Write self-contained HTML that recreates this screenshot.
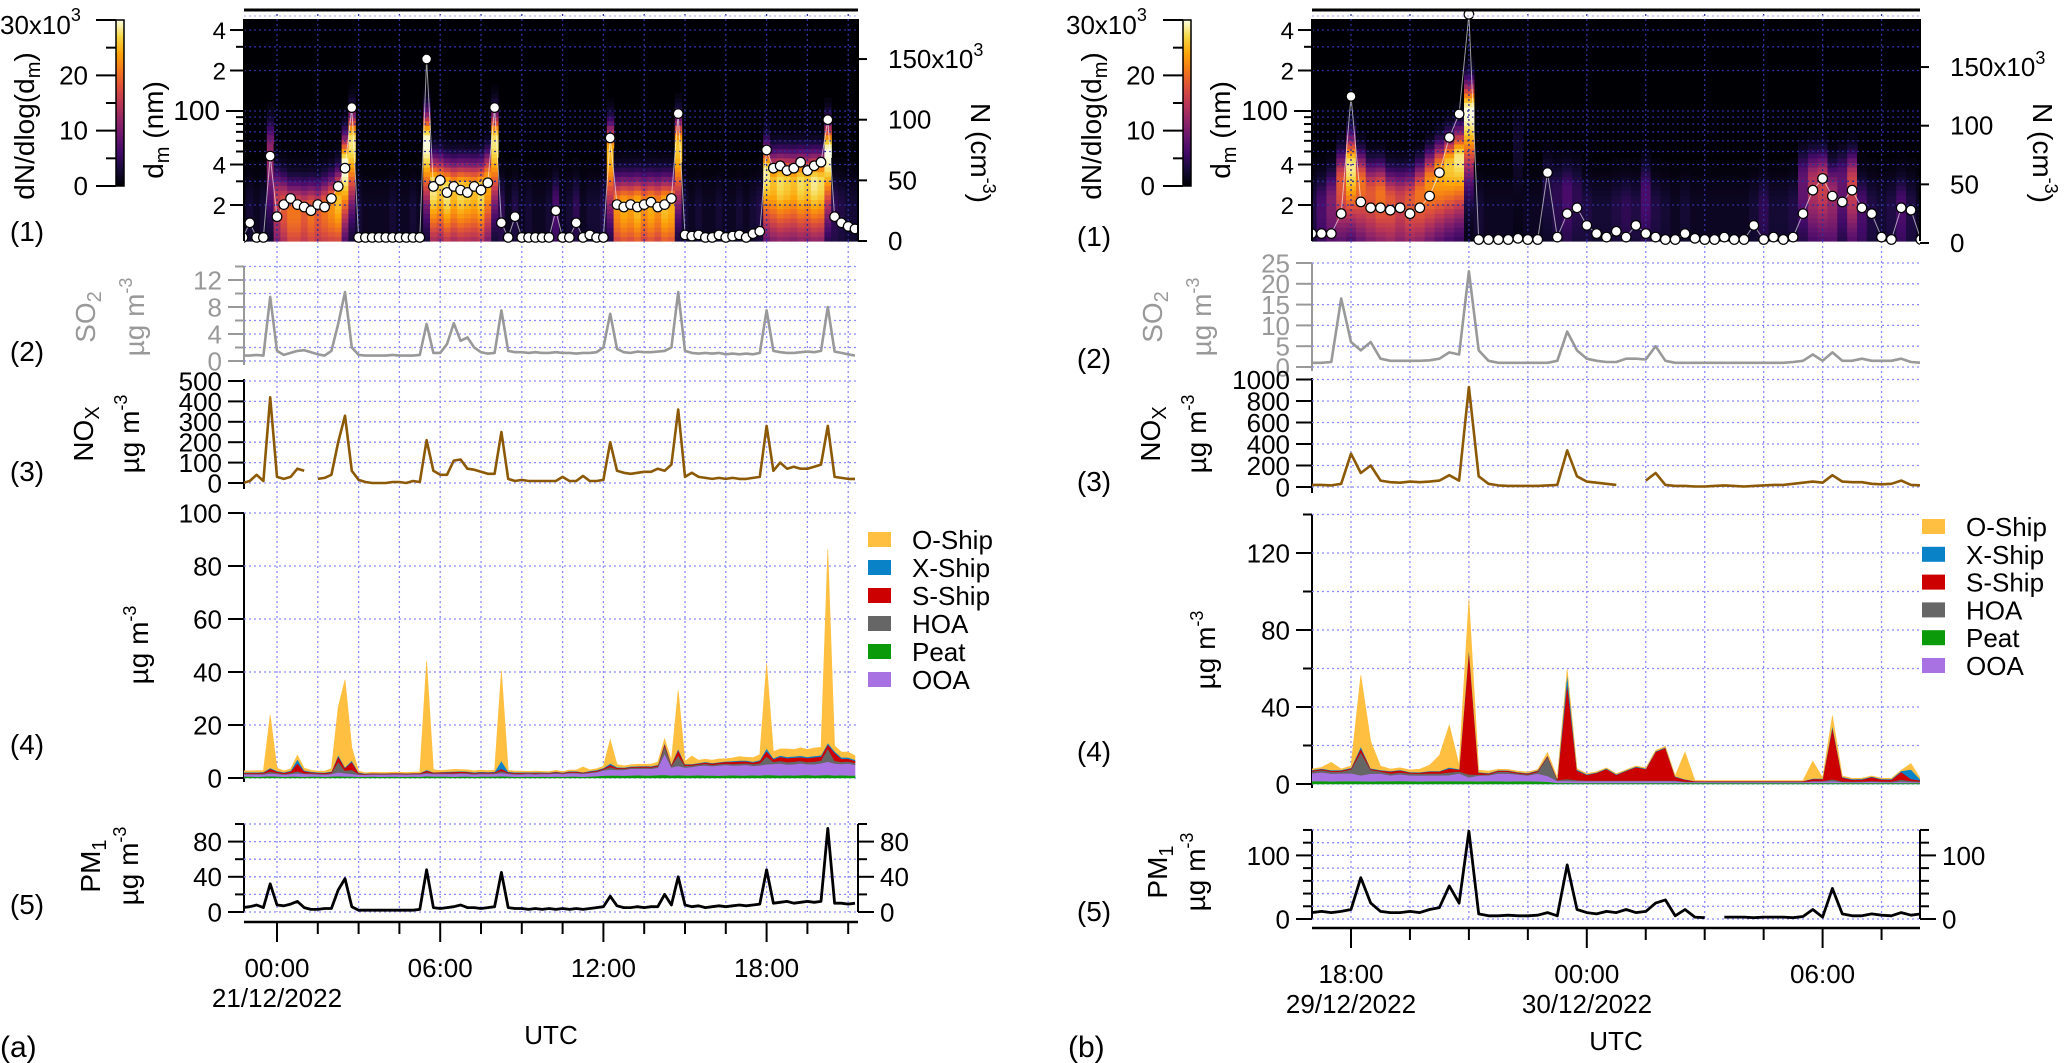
<!DOCTYPE html>
<html><head><meta charset="utf-8"><style>
html,body{margin:0;padding:0;background:#fff;}
svg{display:block;font-family:"Liberation Sans",Arial,sans-serif;}
</style></head><body>
<svg id="chart" width="2067" height="1063" viewBox="0 0 2067 1063" xmlns="http://www.w3.org/2000/svg">
<defs id="defs">
<linearGradient id="cbar" x1="0" y1="1" x2="0" y2="0">
<stop offset="0" stop-color="#000004"/><stop offset="0.1" stop-color="#160b39"/><stop offset="0.2" stop-color="#420a68"/><stop offset="0.3" stop-color="#6a176e"/><stop offset="0.4" stop-color="#932667"/><stop offset="0.5" stop-color="#bc3754"/><stop offset="0.6" stop-color="#dd513a"/><stop offset="0.7" stop-color="#f37819"/><stop offset="0.8" stop-color="#fca50a"/><stop offset="0.9" stop-color="#f6d746"/><stop offset="1" stop-color="#fcffe4"/>
</linearGradient>
</defs>
<rect x="0" y="0" width="2067" height="1063" fill="#fff"/>
<g id="root"></g>
<g id="labels" font-size="28" fill="#000">
<text x="0" y="34" font-size="26">30x10<tspan dy="-13" font-size="18">3</tspan></text>
<text transform="translate(34,126) rotate(-90)" text-anchor="middle">dN/dlog(d<tspan dy="6" font-size="20">m</tspan><tspan dy="-6">)</tspan></text>
<text transform="translate(163,130) rotate(-90)" text-anchor="middle">d<tspan dy="6" font-size="20">m</tspan><tspan dy="-6"> (nm)</tspan></text>
<text transform="translate(971,153) rotate(90)" text-anchor="middle">N (cm<tspan dy="-12" font-size="18">-3</tspan><tspan dy="12">)</tspan></text>
<text transform="translate(95,317) rotate(-90)" text-anchor="middle" fill="#999">SO<tspan dy="6" font-size="20">2</tspan></text>
<text transform="translate(144,317) rotate(-90)" text-anchor="middle" fill="#999">µg m<tspan dy="-12" font-size="18">-3</tspan></text>
<text transform="translate(93,434) rotate(-90)" text-anchor="middle">NO<tspan dy="6" font-size="20">X</tspan></text>
<text transform="translate(139,434) rotate(-90)" text-anchor="middle">µg m<tspan dy="-12" font-size="18">-3</tspan></text>
<text transform="translate(148,645) rotate(-90)" text-anchor="middle">µg m<tspan dy="-12" font-size="18">-3</tspan></text>
<text transform="translate(100,866) rotate(-90)" text-anchor="middle">PM<tspan dy="6" font-size="20">1</tspan></text>
<text transform="translate(138,866) rotate(-90)" text-anchor="middle">µg m<tspan dy="-12" font-size="18">-3</tspan></text>
<text x="27" y="241" text-anchor="middle">(1)</text>
<text x="27" y="361" text-anchor="middle">(2)</text>
<text x="27" y="481" text-anchor="middle">(3)</text>
<text x="27" y="754" text-anchor="middle">(4)</text>
<text x="27" y="914" text-anchor="middle">(5)</text>
<text x="277" y="1007" text-anchor="middle" font-size="26">21/12/2022</text>
<text x="551" y="1044" text-anchor="middle" font-size="26">UTC</text>
<text x="0" y="1057" font-size="30">(a)</text>
<text x="1066" y="34" font-size="26">30x10<tspan dy="-13" font-size="18">3</tspan></text>
<text transform="translate(1101,126) rotate(-90)" text-anchor="middle">dN/dlog(d<tspan dy="6" font-size="20">m</tspan><tspan dy="-6">)</tspan></text>
<text transform="translate(1230,130) rotate(-90)" text-anchor="middle">d<tspan dy="6" font-size="20">m</tspan><tspan dy="-6"> (nm)</tspan></text>
<text transform="translate(2033,153) rotate(90)" text-anchor="middle">N (cm<tspan dy="-12" font-size="18">-3</tspan><tspan dy="12">)</tspan></text>
<text transform="translate(1162,317) rotate(-90)" text-anchor="middle" fill="#999">SO<tspan dy="6" font-size="20">2</tspan></text>
<text transform="translate(1211,317) rotate(-90)" text-anchor="middle" fill="#999">µg m<tspan dy="-12" font-size="18">-3</tspan></text>
<text transform="translate(1160,434) rotate(-90)" text-anchor="middle">NO<tspan dy="6" font-size="20">X</tspan></text>
<text transform="translate(1206,434) rotate(-90)" text-anchor="middle">µg m<tspan dy="-12" font-size="18">-3</tspan></text>
<text transform="translate(1215,650) rotate(-90)" text-anchor="middle">µg m<tspan dy="-12" font-size="18">-3</tspan></text>
<text transform="translate(1167,872) rotate(-90)" text-anchor="middle">PM<tspan dy="6" font-size="20">1</tspan></text>
<text transform="translate(1205,872) rotate(-90)" text-anchor="middle">µg m<tspan dy="-12" font-size="18">-3</tspan></text>
<text x="1094" y="246" text-anchor="middle">(1)</text>
<text x="1094" y="368" text-anchor="middle">(2)</text>
<text x="1094" y="491" text-anchor="middle">(3)</text>
<text x="1094" y="761" text-anchor="middle">(4)</text>
<text x="1094" y="921" text-anchor="middle">(5)</text>
<text x="1351" y="1013" text-anchor="middle" font-size="26">29/12/2022</text>
<text x="1587" y="1013" text-anchor="middle" font-size="26">30/12/2022</text>
<text x="1616" y="1050" text-anchor="middle" font-size="26">UTC</text>
<text x="1068" y="1057" font-size="30">(b)</text>
</g>
</svg>
<script>
const so2A = [0.8, 0.8,0.9,0.8,9.5, 1.5,0.9,1.2,1.5, 1.6,1.3,1.0,0.8, 1.5,5.5,10.2,2.0, 0.9,0.8,0.8,0.8, 0.8,0.9,0.8,0.8, 0.8,0.9,5.5,1.2, 1.2,2.5,5.6,3.0, 3.5,2.0,1.3,1.1, 1.2,7.5,1.5,1.3, 1.3,1.2,1.3,1.2, 1.2,1.3,1.2,1.2, 1.1,1.2,1.2,1.3, 2.0,7.0,1.8,1.3, 1.2,1.4,1.3,1.3, 1.4,1.5,2.0,10.2, 1.5,1.2,1.1,1.2, 1.1,1.2,1.0,1.1, 1.0,1.1,1.0,1.2, 7.5,1.5,1.3,1.2, 1.2,1.3,1.4,1.3, 1.5,8.0,1.4,1.2, 1.0,0.8];
const noxA = [0, 10,40,10,420, 30,20,30,70, 60,null,20,25, 40,200,330,60, 15,5,0,0, 0,5,5,0, 10,5,210,60, 40,40,110,115, 70,65,55,45, 45,250,20,10, 15,10,10,10, 10,10,30,10, 10,35,10,10, 15,200,60,50, 45,50,55,55, 70,60,90,360, 30,50,30,25, 20,25,20,25, 20,20,25,30, 280,60,100,70, 80,70,70,80, 90,280,30,25, 20,20];
const pmA = [5, 6,8,5,32, 8,7,9,12, 5,3,3,4, 4,25,38,6, 2,2,2,2, 2,2,2,2, 2,3,48,5, 4,5,6,8, 5,5,4,5, 6,45,5,4, 4,3,4,3, 4,3,4,3, 4,3,4,5, 6,18,7,5, 5,6,5,6, 6,20,8,40, 8,6,7,5, 6,7,6,7, 8,7,8,9, 48,10,11,12, 10,11,12,11, 12,95,10,10, 9,10];
const peatA = [0.6, 0.6,0.5,0.6,0.7, 0.6,0.5,0.6,0.6, 0.5,0.6,0.6,0.5, 0.6,0.7,0.6,0.6, 0.5,0.5,0.6,0.5, 0.5,0.6,0.5,0.5, 0.6,0.5,0.7,0.6, 0.6,0.6,0.5,0.6, 0.6,0.5,0.6,0.6, 0.6,0.7,0.6,0.5, 0.5,0.6,0.5,0.6, 0.5,0.6,0.5,0.6, 0.6,0.5,0.6,0.7, 0.9,1.0,1.0,0.9, 1.0,1.1,1.0,1.0, 1.1,1.2,1.0,1.1, 1.0,1.0,1.1,1.0, 1.0,0.9,1.0,1.1, 1.0,1.0,1.1,1.0, 1.2,1.1,1.0,1.1, 1.0,1.1,1.2,1.0, 1.1,1.2,1.0,1.1, 1.0,1.0];
const ooaA = [0.8, 0.8,0.9,0.8,1.0, 1.0,0.8,0.9,1.2, 1.0,0.9,0.8,0.8, 0.9,1.5,1.2,1.0, 0.8,0.7,0.8,0.8, 0.8,0.8,0.9,0.8, 0.8,0.9,1.0,0.9, 1.0,0.9,1.0,1.1, 1.0,0.9,1.0,0.9, 1.0,1.2,1.0,0.9, 0.9,1.0,0.9,1.0, 1.0,1.1,1.0,1.2, 1.2,1.1,1.3,1.5, 2.0,2.2,2.0,2.2, 2.5,2.4,2.6,2.5, 2.8,8.0,3.0,3.5, 3.0,3.2,3.5,3.8, 3.5,3.8,4.0,3.6, 3.8,4.0,3.5,3.8, 4.0,4.2,4.5,4.0, 4.2,4.5,4.0,4.2, 4.5,5.0,4.5,4.2, 4.5,4.0];
const hoaA = [0.3, 0.3,0.3,0.3,0.8, 0.4,0.3,0.4,0.8, 0.3,0.3,0.3,0.3, 0.4,4.0,1.0,1.5, 0.3,0.2,0.2,0.2, 0.2,0.2,0.2,0.2, 0.2,0.2,0.5,0.3, 0.3,0.3,0.3,0.3, 0.3,0.3,0.3,0.3, 0.3,0.8,0.3,0.3, 0.3,0.3,0.3,0.3, 0.3,0.3,0.3,0.3, 0.3,0.3,0.3,0.3, 0.4,1.0,0.5,0.4, 0.4,0.5,0.4,0.5, 0.5,3.0,0.6,4.0, 0.6,0.5,0.5,0.6, 0.5,0.6,0.5,0.6, 0.7,0.6,0.7,0.8, 3.0,0.8,1.0,0.9, 1.0,0.9,0.8,1.0, 1.0,5.0,1.0,0.8, 0.8,0.7];
const sshipA = [0.3, 0.3,0.3,0.4,1.0, 0.5,0.4,0.6,3.0, 0.8,0.4,0.3,0.3, 0.4,2.0,1.0,3.0, 0.3,0.2,0.2,0.2, 0.2,0.2,0.2,0.2, 0.2,0.2,0.6,0.3, 0.3,0.4,0.5,0.4, 0.4,0.3,0.3,0.3, 0.3,0.8,0.3,0.3, 0.3,0.2,0.3,0.2, 0.2,0.3,0.2,0.3, 0.3,0.2,0.3,0.3, 0.3,0.8,0.4,0.3, 0.3,0.3,0.4,0.3, 0.4,0.8,0.5,2.0, 0.5,0.4,0.4,0.5, 0.5,0.5,0.6,0.8, 0.8,0.7,0.6,0.9, 2.0,1.0,1.5,1.5, 1.5,1.4,1.5,1.6, 1.5,1.5,3.0,1.2, 1.0,0.8];
const xshipA = [0.2, 0.2,0.2,0.2,0.3, 0.2,0.2,0.3,1.5, 0.3,0.2,0.2,0.2, 0.2,0.5,0.3,0.5, 0.2,0.1,0.1,0.1, 0.1,0.1,0.1,0.1, 0.1,0.1,0.3,0.1, 0.1,0.2,0.2,0.2, 0.2,0.2,0.2,0.2, 0.2,3.0,0.2,0.2, 0.2,0.1,0.2,0.1, 0.1,0.2,0.1,0.2, 0.2,0.1,0.2,0.2, 0.2,0.5,0.2,0.2, 0.2,0.2,0.2,0.2, 0.2,0.3,0.2,0.5, 0.2,0.2,0.2,0.2, 0.2,0.2,0.2,0.3, 0.3,0.3,0.3,0.3, 1.0,0.4,0.5,0.5, 0.5,0.5,0.5,0.5, 0.5,0.6,0.6,0.5, 0.5,0.4];
const oshipA = [0.5, 0.5,0.6,0.5,20, 1.0,0.5,0.6,1.5, 0.8,0.5,0.4,0.5, 1.0,18,33,5, 0.5,0.3,0.3,0.3, 0.3,0.3,0.3,0.3, 0.3,0.4,41,1.0, 0.5,0.6,0.8,0.6, 0.6,0.5,0.6,0.5, 0.6,34,0.5,0.4, 0.4,0.3,0.4,0.3, 0.3,0.4,0.3,0.4, 0.4,2.0,0.4,0.5, 0.6,9,1.0,0.6, 0.6,0.7,0.6,0.8, 1.0,1.5,1.5,22, 1.0,3.0,1.0,1.0, 1.0,1.2,1.0,1.2, 1.5,1.2,1.5,2.0, 32,2.5,2.5,3.0, 2.5,3.0,2.8,3.0, 3.0,73,2.0,2.0, 2.0,1.5];
const nA = [3, 15,3,3,70, 20,30,35,30, 28,25,30,28, 35,45,60,110, 3,3,3,3, 3,3,3,3, 3,3,150,45, 50,40,45,42, 40,45,42,48, 110,15,3,20, 3,3,3,3, 3,25,3,3, 15,3,5,3, 3,85,30,28, 30,28,30,32, 28,30,35,105, 5,4,5,3, 3,5,3,4, 5,3,6,8, 75,60,62,58, 60,65,58,62, 65,100,20,15, 12,10];
const ampA = [1, 2,1,2,12, 15,18,20,20, 18,20,18,20, 22,25,30,28, 2,1,1,1, 1,2,1,1, 2,1,30,28, 26,28,25,27, 26,25,27,24, 28,4,1,3, 1,2,1,1, 2,6,1,2, 4,1,2,2, 3,25,22,24, 23,25,22,24, 22,25,24,26, 2,1,2,1, 1,2,1,1, 2,1,2,3, 28,25,27,26, 25,27,26,28, 27,30,4,3, 2,2];
const modeA = [20, 20,20,20,50, 22,20,18,18, 18,18,18,19, 20,22,40,60, 20,20,20,20, 20,20,20,20, 20,20,60,28, 28,26,26,26, 26,26,26,30, 60,20,20,20, 20,20,20,20, 20,20,20,20, 20,20,20,20, 20,50,20,20, 20,20,20,20, 20,20,20,55, 20,20,20,20, 20,20,20,20, 20,20,20,20, 35,30,30,30, 30,30,30,30, 30,50,20,20, 20,20];
const so2B = [1,1,1.2,16.5, 6,4,6,2, 1.5,1.5,1.5,1.5, 1.6,2,3.5,3, 23,4,1.5,1, 1,1,1,1, 1,1.5,8.5,4, 2,1.5,1.2,1.2, 2,2,1.8,5, 1.5,1,1,1, 1,1,1,1, 1,1,1,1, 1,1.2,1.5,3, 1.5,3.5,1.5,1.5, 2,1.5,1.5,1.5, 2,1.2,1];
const noxB = [20,20,15,30, 310,130,200,60, 45,40,50,45, 50,60,110,60, 930,100,30,15, 10,10,10,10, 15,20,340,100, 50,40,30,20, null,null,60,130, 20,10,10,5, 5,10,15,10, 5,10,15,20, 20,30,40,50, 40,110,50,45, 45,30,25,30, 60,20,15];
const pmB = [10,12,10,12, 15,65,25,12, 10,10,12,10, 15,18,52,25, 138,8,5,5, 6,5,5,6, 10,5,85,15, 10,8,12,10, 15,10,12,25, 30,5,15,3, 2,null,3,3, 3,2,3,3, 3,2,4,15, 3,48,8,5, 5,8,6,5, 10,6,8];
const peatB = [1.5,1.6,1.4,1.5, 1.6,1.5,1.4,1.5, 1.5,1.6,1.5,1.4, 1.5,1.5,1.6,1.5, 1.5,1.4,1.5,1.5, 1.4,1.5,1.5,1.4, 1.2,0.6,0.6,0.5, 0.5,0.5,0.5,0.5, 0.5,0.5,0.5,0.5, 0.5,0.5,0.5,0.5, 0.5,0.5,0.5,0.5, 0.5,0.5,0.5,0.5, 0.5,0.5,0.5,0.5, 0.5,0.5,0.5,0.5, 0.5,0.5,0.5,0.5, 0.5,0.5,0.5];
const ooaB = [4,4.5,4,4, 4,3,4,4, 3,3.5,3,3, 3,3,3,4, 2,3,3,4, 4,3.5,3,4, 3,1,1,1, 1,1,1,1, 1,1,1,1, 1,1,0.5,0.5, 0.5,0.5,0.5,0.5, 0.5,0.5,0.5,0.5, 0.5,0.5,0.5,0.8, 0.8,1,0.6,0.5, 0.6,0.8,0.6,0.5, 0.8,0.6,0.5];
const hoaB = [1,1.2,1,1, 2,12,2,1, 1,1,1,1, 1,1,1.5,1, 1.5,0.5,0.5,1, 1,0.5,0.5,1, 10,0.5,1,0.5, 0.3,0.3,0.3,0.3, 0.3,0.3,0.3,0.3, 0.3,0.3,0.3,0.2, 0.2,0.2,0.2,0.2, 0.2,0.2,0.2,0.2, 0.2,0.2,0.2,0.3, 0.3,1,0.3,0.3, 0.3,0.3,0.3,0.3, 1,0.5,0.3];
const sshipB = [0.5,0.5,0.5,0.5, 0.5,2,0.5,0.5, 1,1,0.5,0.5, 1,1,2,1, 65,1,0.5,0.5, 0.5,0.5,0.5,0.5, 0.5,0.5,50,5, 3,4,6,3, 5,7,6,15, 17,2,1,0.3, 0.3,0.3,0.3,0.3, 0.3,0.3,0.3,0.3, 0.3,0.3,0.3,1, 1,27,2,1, 1,2,1,1, 4,1,0.5];
const xshipB = [0.3,0.3,0.3,0.3, 0.3,1,0.3,0.3, 0.3,0.3,0.3,0.3, 0.3,0.3,0.5,0.3, 1,0.3,0.2,0.2, 0.2,0.2,0.2,0.2, 0.2,0.2,5,0.5, 0.3,0.3,0.3,0.3, 0.3,0.3,0.3,0.3, 0.3,0.2,0.2,0.1, 0.1,0.1,0.1,0.1, 0.1,0.1,0.1,0.1, 0.1,0.1,0.1,0.3, 0.3,1,0.3,0.3, 0.3,0.3,0.3,0.3, 0.5,5,0.3];
const oshipB = [0.5,0.5,4,0.5, 1,37,14,2, 1,1,1,1.5, 3,8,22,2, 25,1,1,0.5, 0.5,0.5,0.5,0.5, 1.5,0.5,2,0.5, 0.3,0.3,0.3,0.3, 0.3,0.3,0.3,0.3, 0.5,0.3,14,0.3, 0.2,0.2,0.2,0.2, 0.2,0.2,0.2,0.2, 0.2,0.2,0.2,9, 0.3,5,0.5,0.3, 0.3,0.3,0.3,0.3, 0.3,3,0.3];
const nB = [8,8,8,25, 125,35,30,30, 28,30,25,30, 40,60,90,110, 195,3,3,3, 3,4,3,3, 60,5,25,30, 15,8,5,10, 5,15,8,5, 3,3,8,4, 3,3,5,3, 3,15,3,5, 3,5,25,45, 55,40,35,45, 30,25,5,3, 30,28,3];
const ampB = [3,6,10,18, 28,20,18,20, 18,16,18,20, 22,24,26,28, 30,2,1,1, 1,2,1,1, 3,4,6,4, 3,2,2,3, 4,3,6,3, 2,1,2,1, 1,1,1,1, 1,2,4,2, 2,3,8,14, 16,12,8,16, 6,3,2,3, 6,3,1];
const modeB = [20,20,22,30, 40,30,25,25, 22,22,22,25, 30,35,40,45, 100,20,20,20, 20,60,20,20, 30,25,25,25, 20,20,20,20, 20,20,25,20, 20,20,20,20, 20,20,20,20, 20,20,20,20, 20,20,30,30, 30,25,30,30, 20,20,20,20, 20,20,20];
const speciesNames = ['Peat','OOA','HOA','S-Ship','X-Ship','O-Ship'];
const legendOrder = ['O-Ship','X-Ship','S-Ship','HOA','Peat','OOA'];
const dmTickValues = [20,30,40,50,60,70,80,90,100,200,300,400];
const dmTickLabels = {20:'2',40:'4',100:'100',200:'2',400:'4'};
const nTickValues = [0,50,100,150];
const nTickLabels = {0:'0',50:'50',100:'100',150:'150x10'};
const cbTickValues = [0,5,10,15,20,25,30];
const cbTickLabels = {0:'0',10:'10',20:'20',30:''};

const COLORS = {'Peat':'#0a9a0a','OOA':'#a972e2','HOA':'#666666','S-Ship':'#cc0000','X-Ship':'#0a82c8','O-Ship':'#ffbf40'};
const NS='http://www.w3.org/2000/svg';
const root=document.getElementById('root');
const defs=document.getElementById('defs');
function mk(tag,attrs,parent){const e=document.createElementNS(NS,tag);for(const k in attrs)e.setAttribute(k,attrs[k]);parent.appendChild(e);return e;}
const INF=[[0,0,0,4],[0.1,22,11,57],[0.2,66,10,104],[0.3,106,23,110],[0.4,147,38,103],[0.5,188,55,84],[0.6,221,81,58],[0.7,243,120,25],[0.8,252,165,10],[0.9,246,215,70],[1,252,255,228]];
function inferno(f){f=Math.max(0,Math.min(1,f));for(let i=1;i<INF.length;i++){if(f<=INF[i][0]){const a=INF[i-1],b=INF[i],u=(f-a[0])/(b[0]-a[0]);return 'rgb('+Math.round(a[1]+u*(b[1]-a[1]))+','+Math.round(a[2]+u*(b[2]-a[2]))+','+Math.round(a[3]+u*(b[3]-a[3]))+')';}}return 'rgb(252,255,228)';}
const yD=d=>111-134.5*Math.log10(d/100);
const LMIN=Math.log10(10.8),LMAX=Math.log10(482),NROW=48;
const GRID='#8a8aff', HGRID='#2e2e9a';

function txt(parent,x,y,s,anchor,size,fill){const t=mk('text',{x:x,y:y,'text-anchor':anchor,'font-size':size,fill:fill||'#000'},parent);t.textContent=s;return t;}
function ln(parent,x1,y1,x2,y2,stroke,w,dash){const a={x1:x1,y1:y1,x2:x2,y2:y2,stroke:stroke,'stroke-width':w};if(dash)a['stroke-dasharray']=dash;return mk('line',a,parent);}

function yAxis(parent,x,yTop,yBot,vals,labels,yf,side,color,fs,x0,x1,gridColor){
  ln(parent,x,yTop,x,yBot,color,2);
  const dir=side==='L'?-1:1;
  vals.forEach(v=>{
    const y=yf(v);const major=(v in labels);
    if(gridColor&&x0!==undefined) ln(parent,x0,y,x1,y,gridColor,1.3,'2,3');
    ln(parent,x,y,x+dir*(major?16:9),y,color,2);
    if(major&&labels[v]!=='') txt(parent,x+dir*22,y+fs*0.36,labels[v],side==='L'?'end':'start',fs,color);
  });
}
function drawLine(parent,arr,P,yf,color,w,name,tag){
  const g=mk('g',{'clip-path':'url(#clip'+tag+')'},parent);
  let d='',pen=false;
  for(let i=0;i<arr.length;i++){
    const v=arr[i];
    if(v===null||v===undefined){pen=false;continue;}
    d+=(pen?'L':'M')+P.tx(P.t0+0.25*i).toFixed(1)+','+yf(v).toFixed(1);pen=true;
  }
  const p=mk('path',{d:d,fill:'none',stroke:color,'stroke-width':w,'stroke-linejoin':'round'},g);
  
  
}

function drawPanel(P,tag){
  const g=mk('g',{},root);
  
  
  const cp=mk('clipPath',{id:'clip'+tag},defs);
  mk('rect',{x:P.x0,y:0,width:P.x1-P.x0,height:1063},cp);
  const n=P.n.length;
  const T=i=>P.t0+0.25*i;

  const vg=mk('g',{},g);
  
  
  for(let h=Math.ceil(P.t0/1.5)*1.5;P.tx(h)<=P.x1;h+=1.5){const x=P.tx(h);if(x<P.x0)continue;ln(vg,x,241,x,P.pmZero,GRID,1.3,'2,3');}

  const hm=mk('g',{'clip-path':'url(#clip'+tag+')'},g);
  
  
  mk('rect',{x:P.x0,y:19,width:P.x1-P.x0,height:222,fill:'#000004'},hm);
  for(let i=0;i<n;i++){
    const cx0=P.tx(T(i)-0.125),cx1=P.tx(T(i)+0.125);
    const amp=P.amp[i]||0,mode=P.mode[i]||20;
    for(let k=0;k<NROW;k++){
      const l0=LMIN+k*(LMAX-LMIN)/NROW,l1=LMIN+(k+1)*(LMAX-LMIN)/NROW,lm=(l0+l1)/2;
      const s=lm-Math.log10(mode);
      const q=s<0?(s/0.45):(s/0.2);
      const shape=Math.exp(-(q*q));
      const bg=1.0*Math.max(0,1-(lm-1.03)/0.8);
      const v=amp*shape+bg;
      if(v<0.4)continue;
      const ytop=yD(Math.pow(10,l1)),ybot=yD(Math.pow(10,l0));
      const c=mk('rect',{x:cx0.toFixed(1),y:ytop.toFixed(1),width:(cx1-cx0+0.6).toFixed(1),height:(ybot-ytop+0.6).toFixed(1),fill:inferno(v/30)},hm);
      
      
    }
  }
  dmTickValues.forEach(d=>ln(hm,P.x0,yD(d),P.x1,yD(d),HGRID,1.3,'2,3'));
  for(let h=Math.ceil(P.t0/1.5)*1.5;P.tx(h)<=P.x1;h+=1.5){const x=P.tx(h);ln(hm,x,14,x,241,HGRID,1.3,'2,3');}
  const yN=v=>P.nZero-v*P.nK;
  let dL='';for(let i=0;i<n;i++){dL+=(i?'L':'M')+P.tx(T(i)).toFixed(1)+','+yN(P.n[i]).toFixed(1);}
  const nl=mk('path',{d:dL,fill:'none',stroke:'#fff','stroke-width':1,'stroke-opacity':0.6},hm);
  
  
  for(let i=0;i<n;i++){
    const c=mk('circle',{cx:P.tx(T(i)).toFixed(1),cy:yN(P.n[i]).toFixed(1),r:4.8,fill:'#fff',stroke:'#000','stroke-width':1.2},hm);
    
    
  }
  ln(g,P.x0,10,P.x1,10,'#000',3);
  ln(g,P.x0,16,P.x1,16,'#b8b8ff',1.3,'2,3');
  const ax=mk('g',{},g);
  
  
  ln(ax,P.x0,19,P.x0,241,'#000',2);
  dmTickValues.forEach(d=>{const y=yD(d);const lab=dmTickLabels[d];ln(ax,P.x0,y,P.x0-(d===100?18:(lab?14:8)),y,'#000',2);if(lab)txt(ax,P.x0-(d===100?24:18),y+9,lab,'end',d===100?28:24);});
  yAxis(ax,P.x1,19,241,nTickValues,{},yN,'R','#000',26);
  nTickValues.forEach(v=>{
    const t=txt(ax,P.x1+30,yN(v)+9,nTickLabels[v],'start',26);
    if(v===150){const sp=mk('tspan',{dy:-12,'font-size':18},t);sp.textContent='3';}
  });
  const cb=mk('g',{},g);
  
  
  mk('rect',{x:P.cbx,y:20,width:8,height:166,fill:'url(#cbar)',stroke:'#000','stroke-width':1.5},cb);
  const yC=v=>186-v*(166/30);
  cbTickValues.forEach(v=>{const major=v%10===0;ln(cb,P.cbx,yC(v),P.cbx-(major?20:10),yC(v),'#000',2);if(cbTickLabels[v])txt(cb,P.cbx-28,yC(v)+9,cbTickLabels[v],'end',26);});

  const ySO=v=>P.soZero-v*P.soK;
  const so=mk('g',{},g);
  
  
  yAxis(so,P.x0,P.soTop,P.soZero+4,P.soTicks,P.soLabels,ySO,'L','#999',26,P.x0,P.x1,GRID);
  drawLine(so,P.so2,P,ySO,'#999',2.6,'so2-line',tag);
  const yNO=v=>P.noZero-v*P.noK;
  const no=mk('g',{},g);
  
  
  yAxis(no,P.x0,P.noTop,P.noZero+6,P.noTicks,P.noLabels,yNO,'L','#000',26,P.x0,P.x1,GRID);
  drawLine(no,P.nox,P,yNO,'#8c5a06',2.6,'nox-line',tag);
  const ySp=v=>P.spZero-v*P.spK;
  const sp=mk('g',{},g);
  
  
  yAxis(sp,P.x0,P.spTop,P.spZero+4,P.spTicks,P.spLabels,ySp,'L','#000',26,P.x0,P.x1,GRID);
  const spg=mk('g',{'clip-path':'url(#clip'+tag+')'},sp);
  let lower=new Array(n).fill(0);
  P.species.forEach((arr,j)=>{
    const upper=lower.map((l,i)=>l+(arr[i]||0));
    let d='';
    for(let i=0;i<n;i++)d+=(i?'L':'M')+P.tx(T(i)).toFixed(1)+','+ySp(upper[i]).toFixed(1);
    for(let i=n-1;i>=0;i--)d+='L'+P.tx(T(i)).toFixed(1)+','+ySp(lower[i]).toFixed(1);
    const a=mk('path',{d:d+'Z',fill:COLORS[speciesNames[j]],stroke:COLORS[speciesNames[j]],'stroke-width':0.6},spg);
    
    
    lower=upper;
  });
  const lg=mk('g',{},g);
  
  
  legendOrder.forEach((name,k)=>{
    const y=P.legY+P.legDy*k;
    const r=mk('rect',{x:P.legX,y:y,width:23,height:15,fill:COLORS[name]},lg);
    
    
    const t=txt(lg,P.legX+44,y+17,name,'start',26);
    
    
  });
  const yPM=v=>P.pmZero-v*P.pmK;
  const pm=mk('g',{},g);
  
  
  const pmTop=yPM(P.pmTicks[P.pmTicks.length-1]);
  yAxis(pm,P.x0,pmTop,P.pmZero,P.pmTicks,P.pmLabels,yPM,'L','#000',26,P.x0,P.x1,GRID);
  yAxis(pm,P.x1,pmTop,P.pmZero,P.pmTicks,P.pmLabels,yPM,'R','#000',26);
  drawLine(pm,P.pm,P,yPM,'#000',2.8,'pm1-line',tag);
  const xg=mk('g',{},g);
  
  
  ln(xg,P.x0,P.xAxisY,P.x1,P.xAxisY,'#000',2.6);
  for(let h=Math.ceil(P.t0/1.5)*1.5;P.tx(h)<=P.x1;h+=1.5){
    const x=P.tx(h);if(x<P.x0)continue;
    const major=Math.abs(h%6)<1e-6;
    ln(xg,x,P.xAxisY,x,P.xAxisY+(major?20:12),'#000',2);
    if(major){const hh=((h%24)+24)%24;txt(xg,x,P.xAxisY+55,(hh<10?'0':'')+hh+':00','middle',26);}
  }
}

const PA={tag:'a',x0:244,x1:858,tx:h=>277+27.2*h,t0:-1.25,cbx:116,
  n:nA,amp:ampA,mode:modeA,nZero:241,nK:1.213,
  so2:so2A,soZero:361,soK:6.75,soTop:266,soTicks:[0,2,4,6,8,10,12,14],soLabels:{0:'0',4:'4',8:'8',12:'12'},
  nox:noxA,noZero:483,noK:0.204,noTop:379,noTicks:[0,100,200,300,400,500],noLabels:{0:'0',100:'100',200:'200',300:'300',400:'400',500:'500'},
  species:[peatA,ooaA,hoaA,sshipA,xshipA,oshipA],spZero:778,spK:2.65,spTop:513,spTicks:[0,20,40,60,80,100],spLabels:{0:'0',20:'20',40:'40',60:'60',80:'80',100:'100'},
  legX:868,legY:532,legDy:28,
  pm:pmA,pmZero:912,pmK:0.88,pmTicks:[0,20,40,60,80,100],pmLabels:{0:'0',40:'40',80:'80'},
  xAxisY:922};
const PB={tag:'b',x0:1312,x1:1920,tx:h=>1351+39.3*(h-18),t0:17,cbx:1183,
  n:nB,amp:ampB,mode:modeB,nZero:243,nK:1.173,
  so2:so2B,soZero:367,soK:4.16,soTop:263,soTicks:[0,5,10,15,20,25],soLabels:{0:'0',5:'5',10:'10',15:'15',20:'20',25:'25'},
  nox:noxB,noZero:487,noK:0.1075,noTop:378,noTicks:[0,200,400,600,800,1000],noLabels:{0:'0',200:'200',400:'400',600:'600',800:'800',1000:'1000'},
  species:[peatB,ooaB,hoaB,sshipB,xshipB,oshipB],spZero:784,spK:1.925,spTop:515,spTicks:[0,20,40,60,80,100,120,140],spLabels:{0:'0',40:'40',80:'80',120:'120'},
  legX:1922,legY:519,legDy:27.8,
  pm:pmB,pmZero:919,pmK:0.636,pmTicks:[0,20,40,60,80,100,120,140],pmLabels:{0:'0',100:'100'},
  xAxisY:928};
drawPanel(PA,'a');
drawPanel(PB,'b');
</script>
</body></html>
